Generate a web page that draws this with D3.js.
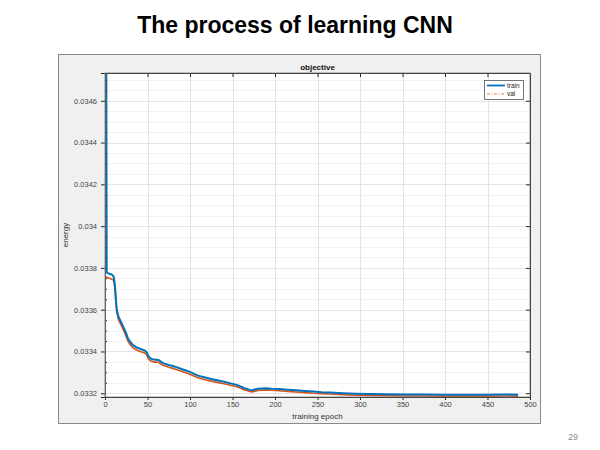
<!DOCTYPE html>
<html><head><meta charset="utf-8">
<script src="https://cdn.jsdelivr.net/npm/d3@7"></script>
<style>body{margin:0;background:#fff;font-family:"Liberation Sans",Arial,sans-serif}</style>
</head><body>
<script>
const pageTitle = "The process of learning CNN";
const chartTitle = "objective";
const xLabel = "training epoch";
const yLabel = "energy";
const pageNumber = "29";
const seriesNames = ["train", "val"];
const xTicks = [0, 50, 100, 150, 200, 250, 300, 350, 400, 450, 500];
const yTicks = [0.0332, 0.0334, 0.0336, 0.0338, 0.0340, 0.0342, 0.0344, 0.0346];
const yTickLabels = ["0.0332", "0.0334", "0.0336", "0.0338", "0.034", "0.0342", "0.0344", "0.0346"];

const trainEpochs = [1, 2, 4, 6, 8, 10, 11, 12, 13, 14, 16, 18, 20, 23, 25, 27, 30, 33, 37, 41, 45, 47, 49, 51, 54, 57, 60, 63, 66, 70, 75, 80, 84, 90, 96, 100, 106, 112, 118, 125, 132, 140, 149, 155, 160, 164, 167, 170, 173, 176, 180, 185, 190, 196, 205, 215, 225, 235, 245, 255, 265, 280, 295, 310, 330, 350, 375, 400, 425, 450, 470, 486];
const trainValues = [0.0358, 0.033778, 0.033774, 0.033771, 0.033768, 0.033760, 0.033740, 0.033700, 0.033640, 0.033597, 0.033565, 0.033548, 0.033532, 0.033505, 0.033485, 0.033462, 0.033444, 0.033430, 0.033420, 0.033413, 0.033407, 0.033404, 0.033396, 0.033377, 0.033366, 0.033361, 0.033360, 0.033359, 0.033350, 0.033342, 0.033335, 0.033330, 0.033325, 0.033316, 0.033308, 0.033302, 0.033290, 0.033281, 0.033275, 0.033268, 0.033262, 0.033255, 0.033246, 0.033240, 0.033232, 0.033224, 0.033221, 0.033216, 0.033214, 0.033218, 0.033221, 0.033223, 0.033224, 0.033222, 0.033220, 0.033217, 0.033214, 0.033211, 0.033208, 0.033205, 0.033203, 0.033200, 0.033198, 0.033196, 0.033195, 0.033194, 0.033194, 0.033193, 0.033193, 0.033193, 0.033194, 0.033193];

const valEpochs = [1, 2, 4, 6, 8, 10, 11, 12, 13, 14, 16, 18, 20, 23, 25, 27, 30, 33, 37, 41, 45, 47, 49, 51, 54, 57, 60, 63, 66, 70, 75, 80, 84, 90, 96, 100, 106, 112, 118, 125, 132, 140, 149, 155, 160, 164, 167, 170, 173, 176, 180, 185, 190, 196, 205, 215, 225, 235, 245, 255, 265, 280, 295, 310, 330, 350, 375, 400, 425, 450, 470, 486];
const valValues = [0.033758, 0.033755, 0.033752, 0.033749, 0.033746, 0.033740, 0.033722, 0.033685, 0.033625, 0.033583, 0.033551, 0.033534, 0.033518, 0.033491, 0.033471, 0.033449, 0.033431, 0.033417, 0.033407, 0.033400, 0.033395, 0.033392, 0.033384, 0.033365, 0.033354, 0.033350, 0.033349, 0.033348, 0.033339, 0.033331, 0.033324, 0.033319, 0.033314, 0.033305, 0.033297, 0.033291, 0.033280, 0.033271, 0.033265, 0.033258, 0.033252, 0.033245, 0.033237, 0.033231, 0.033224, 0.033216, 0.033213, 0.033208, 0.033206, 0.033210, 0.033213, 0.033215, 0.033216, 0.033214, 0.033212, 0.033209, 0.033206, 0.033203, 0.033200, 0.033198, 0.033196, 0.033193, 0.033191, 0.033189, 0.033188, 0.033187, 0.033187, 0.033186, 0.033186, 0.033186, 0.033187, 0.033186];

const W = 600, H = 450;
const svg = d3.select("body").append("svg").attr("width", W).attr("height", H);

svg.append("text").attr("x", 295).attr("y", 33).attr("text-anchor", "middle")
  .attr("font-size", 23).attr("font-weight", "bold").attr("fill", "#000").text(pageTitle);
svg.append("text").attr("x", 578).attr("y", 440).attr("text-anchor", "end")
  .attr("font-size", 9).attr("fill", "#8c8c8c").text(pageNumber);

svg.append("rect").attr("x", 58.5).attr("y", 54.5).attr("width", 482).attr("height", 369)
  .attr("fill", "#f0f0f0").attr("stroke", "#8a8a8a").attr("stroke-width", 1);

const L = 105, R = 530, T = 73, B = 397;
const x = d3.scaleLinear().domain([0, 500]).range([L, R]);
const y = d3.scaleLinear().domain([0.033182, 0.034733]).range([B, T]);

svg.append("rect").attr("x", L).attr("y", T).attr("width", R - L).attr("height", B - T).attr("fill", "#fff");

const g = svg.append("g");
const minorY = d3.range(0.03320, 0.03473, 0.00005).filter(v => Math.abs(((v - 0.0332) / 0.0002) - Math.round((v - 0.0332) / 0.0002)) > 0.01);
g.selectAll(".my").data(minorY).enter().append("line")
  .attr("x1", L).attr("x2", R).attr("y1", d => Math.round(y(d)) + 0.5).attr("y2", d => Math.round(y(d)) + 0.5)
  .attr("stroke", "#f3f3f3").attr("stroke-width", 1);
g.selectAll(".gx").data(xTicks.slice(1, -1)).enter().append("line")
  .attr("x1", d => Math.round(x(d)) + 0.5).attr("x2", d => Math.round(x(d)) + 0.5).attr("y1", T).attr("y2", B)
  .attr("stroke", "#e4e4e4");
g.selectAll(".gy").data(yTicks).enter().append("line")
  .attr("x1", L).attr("x2", R).attr("y1", d => Math.round(y(d)) + 0.5).attr("y2", d => Math.round(y(d)) + 0.5)
  .attr("stroke", "#e4e4e4");

svg.append("clipPath").attr("id", "clip").append("rect").attr("x", L).attr("y", T).attr("width", R - L).attr("height", B - T);

const line = d3.line().x(d => x(d[0])).y(d => y(d[1]));
const valData = valEpochs.map((e, i) => [e, valValues[i]]);
const trainData = trainEpochs.map((e, i) => [e, trainValues[i]]);
svg.append("path").attr("clip-path", "url(#clip)").attr("d", line(valData))
  .attr("fill", "none").attr("stroke", "#D95319").attr("stroke-width", 1.6);
svg.append("path").attr("clip-path", "url(#clip)").attr("d", line(trainData))
  .attr("fill", "none").attr("stroke", "#0072BD").attr("stroke-width", 2);

const axColor = "#262626";
const xAxis = svg.append("g").attr("transform", `translate(0,${B})`)
  .call(d3.axisBottom(x).tickValues(xTicks).tickSize(3).tickPadding(2).tickFormat(d3.format("d")));
const xTop = svg.append("g").attr("transform", `translate(0,${T})`)
  .call(d3.axisBottom(x).tickValues(xTicks).tickSize(4).tickFormat(""));
const yAxis = svg.append("g").attr("transform", `translate(${L},0)`)
  .call(d3.axisLeft(y).tickValues(yTicks).tickSize(4).tickPadding(4).tickFormat((d, i) => yTickLabels[i]));
const yRight = svg.append("g").attr("transform", `translate(${R},0)`)
  .call(d3.axisLeft(y).tickValues(yTicks).tickSize(4).tickFormat(""));
const yMinor = svg.append("g").attr("transform", `translate(${L},0)`)
  .call(d3.axisRight(y).tickValues(minorY).tickSize(2).tickFormat(""));
[xAxis, xTop, yAxis, yRight, yMinor].forEach(a => {
  a.select(".domain").attr("stroke", axColor);
  a.selectAll(".tick line").attr("stroke", axColor);
  a.selectAll("text").attr("fill", "#444").attr("font-size", 7.5).attr("font-family", "Liberation Sans, Arial, sans-serif");
});
svg.append("line").attr("x1", L + 0.5).attr("x2", L + 0.5).attr("y1", T).attr("y2", B).attr("stroke", "#5a5a5a");
svg.append("rect").attr("x", L).attr("y", T).attr("width", R - L).attr("height", B - T)
  .attr("fill", "none").attr("stroke", "#777").attr("stroke-width", 0.8);

svg.append("text").attr("x", (L + R) / 2).attr("y", 419).attr("text-anchor", "middle")
  .attr("font-size", 8).attr("fill", "#333").text(xLabel);
svg.append("text").attr("transform", `translate(68,${(T + B) / 2}) rotate(-90)`).attr("text-anchor", "middle")
  .attr("font-size", 8).attr("fill", "#333").text(yLabel);
svg.append("text").attr("x", (L + R) / 2).attr("y", 70).attr("text-anchor", "middle")
  .attr("font-size", 8).attr("font-weight", "bold").attr("fill", "#111").text(chartTitle);

const lg = svg.append("g");
lg.append("rect").attr("x", 484.5).attr("y", 80.5).attr("width", 39).attr("height", 19)
  .attr("fill", "#fff").attr("stroke", "#555").attr("stroke-width", 0.8);
const legendColors = ["#0072BD", "#D95319"];
const legendDash = [null, "3,1.5,1,1.5"];
seriesNames.forEach((n, i) => {
  const yy = 85.5 + i * 8.5;
  lg.append("line").attr("x1", 487).attr("x2", 505).attr("y1", yy).attr("y2", yy)
    .attr("stroke", legendColors[i]).attr("stroke-width", i === 0 ? 1.8 : 0.8)
    .attr("stroke-dasharray", legendDash[i]);
  lg.append("text").attr("x", 507).attr("y", yy + 2.3).attr("font-size", 6.5).attr("fill", "#222").text(n);
});
</script>
</body></html>
